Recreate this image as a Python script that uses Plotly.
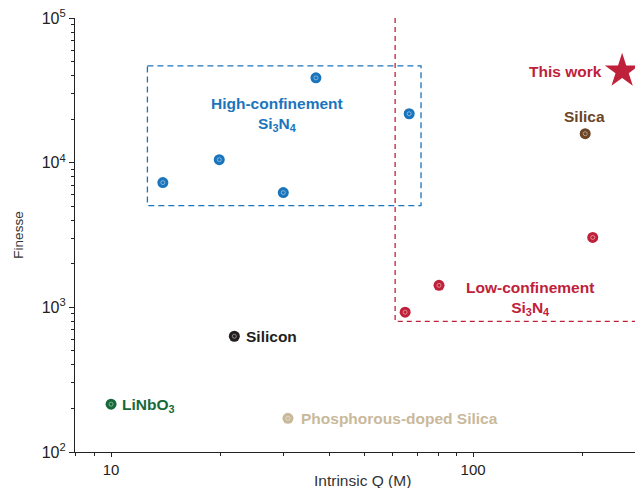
import numpy as np
import plotly.graph_objects as go

# ---- data ----
high_q = [13.9, 19.9, 29.9, 36.8, 66.6]
high_f = [7280, 10490, 6210, 38570, 21780]
low_q = [64.9, 80.5, 214]
low_f = [925, 1419, 3040]
silica_q = [204]
silica_f = [15850]
silicon_q = [21.9]
silicon_f = [631]
linbo3_q = [10.0]
linbo3_f = [214]
pdoped_q = [30.8]
pdoped_f = [171]
this_q = [258]
this_f = [43000]

# region boxes
high_box_q = [12.6, 71.8, 71.8, 12.6, 12.6]
high_box_f = [46650, 46650, 5050, 5050, 46650]
low_box_q = [60.9, 60.9, 300]
low_box_f = [100000, 800, 800]

x_tickvals = [10, 100]
x_ticktext = ["10", "100"]
y_tickvals = [100, 1000, 10000, 100000]
y_ticktext = ["10<sup>2</sup>", "10<sup>3</sup>", "10<sup>4</sup>", "10<sup>5</sup>"]
x_minor = [8, 9, 20, 30, 40, 50, 60, 70, 80, 90, 200]
y_minor = [m * d for d in (100, 1000, 10000) for m in range(2, 10)]

BLUE = "#1b75bc"
RED = "#c0213a"
BROWN = "#6b4526"
BLACK = "#231f20"
GREEN = "#17693a"
TAN = "#c9b99b"

fig = go.Figure()

fig.add_trace(go.Scatter(x=high_box_q, y=high_box_f, mode="lines",
                         line=dict(color=BLUE, width=1.3, dash="6px,4px"), hoverinfo="skip"))
fig.add_trace(go.Scatter(x=low_box_q, y=low_box_f, mode="lines",
                         line=dict(color=RED, width=1.3, dash="5px,4px"), hoverinfo="skip"))

def dots(xs, ys, color):
    fig.add_trace(go.Scatter(x=xs, y=ys, mode="markers", cliponaxis=False,
                             marker=dict(size=11, color=color, line=dict(width=0))))
    fig.add_trace(go.Scatter(x=xs, y=ys, mode="markers", cliponaxis=False,
                             marker=dict(size=4, symbol="circle-open", color="rgba(255,255,255,0.55)",
                                         line=dict(width=0.8, color="rgba(255,255,255,0.55)"))))

dots(high_q, high_f, BLUE)
dots(low_q, low_f, RED)
dots(silica_q, silica_f, BROWN)
dots(silicon_q, silicon_f, BLACK)
dots(linbo3_q, linbo3_f, GREEN)
dots(pdoped_q, pdoped_f, TAN)

fig.add_trace(go.Scatter(x=this_q, y=this_f, mode="markers", cliponaxis=False,
                         marker=dict(symbol="star", size=26, color=RED, line=dict(width=0))))

FONT = "Liberation Sans, Arial, sans-serif"

def label(x, y, text, color, xanchor="center", yanchor="middle"):
    fig.add_annotation(x=np.log10(x), y=np.log10(y), text="<b>" + text + "</b>", showarrow=False,
                       xanchor=xanchor, yanchor=yanchor, font=dict(family=FONT, size=15.5, color=color))

label(28.7, 21400, "High-confinement<br>Si<sub>3</sub>N<sub>4</sub>", BLUE)
label(143.6, 1150, "Low-confinement<br>Si<sub>3</sub>N<sub>4</sub>", RED)
label(230, 43000, "This work", RED, xanchor="right")
label(202.6, 20760, "Silica", BROWN)
label(23.3, 631, "Silicon", BLACK, xanchor="left")
label(10.6, 208, "LiNbO<sub>3</sub>", GREEN, xanchor="left")
label(33.0, 171, "Phosphorous-doped Silica", TAN, xanchor="left")

# x-axis title (placed slightly right of center, as in the reference)
fig.add_annotation(x=0.514, y=0, xref="paper", yref="paper", yshift=-28,
                   text="Intrinsic Q (M)", showarrow=False, xanchor="center", yanchor="middle",
                   font=dict(family=FONT, size=15.5, color="#333"))

fig.update_layout(
    width=635, height=488,
    margin=dict(l=75, r=0, t=18, b=36),
    plot_bgcolor="white", paper_bgcolor="white",
    showlegend=False,
    font=dict(family=FONT, size=13, color="#333333"),
    xaxis=dict(type="log", range=[np.log10(7.95), np.log10(280)],
               tickvals=x_tickvals, ticktext=x_ticktext, ticks="outside", ticklen=4,
               tickcolor="#222", showline=True, linecolor="#222", linewidth=1.2,
               showgrid=False, zeroline=False, tickfont=dict(size=15, color="#222"),
               minor=dict(tickvals=x_minor, ticks="outside", ticklen=3, tickcolor="#222", showgrid=False)),
    yaxis=dict(type="log", range=[2, 5],
               tickvals=y_tickvals, ticktext=y_ticktext, ticks="outside", ticklen=5,
               tickcolor="#222", showline=True, linecolor="#222", linewidth=1.2,
               showgrid=False, zeroline=False, tickfont=dict(size=16, color="#222"),
               minor=dict(tickvals=y_minor, ticks="outside", ticklen=3, tickcolor="#222", showgrid=False),
               title=dict(text="Finesse", standoff=14, font=dict(size=13.5, color="#333"))),
)

fig.write_html("out.html")
